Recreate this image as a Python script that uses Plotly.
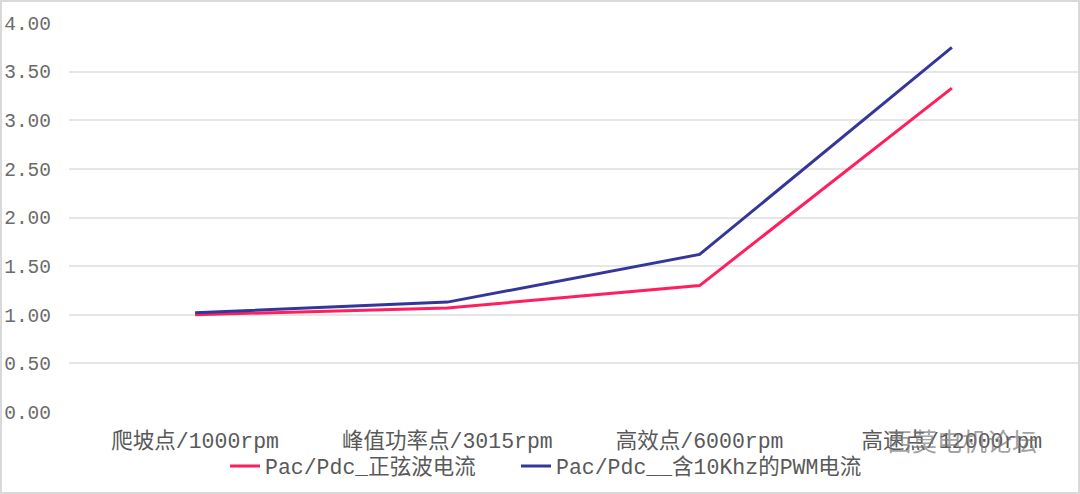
import plotly.graph_objects as go

categories = ["爬坡点/1000rpm", "峰值功率点/3015rpm", "高效点/6000rpm", "高速点/12000rpm"]
sine_values = [1.00, 1.07, 1.30, 3.33]
pwm_values = [1.02, 1.13, 1.62, 3.75]
series_names = ["Pac/Pdc_正弦波电流", "Pac/Pdc__含10Khz的PWM电流"]
y_ticks = [0, 0.5, 1, 1.5, 2, 2.5, 3, 3.5, 4]
y_tick_labels = ["0.00", "0.50", "1.00", "1.50", "2.00", "2.50", "3.00", "3.50", "4.00"]

W, H = 1080, 494
ML, MR, MT, MB = 69, 2, 23, 82
FONT = "Liberation Mono, Noto Sans CJK SC, monospace"

fig = go.Figure()
fig.add_trace(go.Scatter(x=categories, y=sine_values, mode="lines", name=series_names[0],
                         line=dict(color="#FF1F5E", width=3), legend="legend"))
fig.add_trace(go.Scatter(x=categories, y=pwm_values, mode="lines", name=series_names[1],
                         line=dict(color="#35369A", width=3), legend="legend2"))

pw = W - ML - MR
ph = H - MT - MB
fig.add_shape(type="rect", xref="paper", yref="paper",
              x0=(-ML + 1) / pw, x1=(pw + MR - 1) / pw,
              y0=(-MB + 1) / ph, y1=(ph + MT - 1) / ph,
              line=dict(color="#D9D9D9", width=2), fillcolor="rgba(0,0,0,0)", layer="below")

fig.add_annotation(text="西莫电机论坛", xref="paper", yref="paper",
                   x=(962 - ML) / pw, y=(412 - 440) / ph, showarrow=False,
                   font=dict(family="Noto Sans CJK SC", size=25, color="rgba(120,120,120,0.7)"),
                   xanchor="center", yanchor="middle")

legend_common = dict(orientation="h", xanchor="left", y=(412 - 466) / ph, yanchor="middle",
                     font=dict(family=FONT, size=21.5, color="#595959"), itemwidth=30,
                     bgcolor="rgba(0,0,0,0)")

fig.update_layout(
    width=W, height=H,
    margin=dict(l=ML, r=MR, t=MT, b=MB, autoexpand=False),
    paper_bgcolor="white", plot_bgcolor="white",
    font=dict(family=FONT, size=21, color="#595959"),
    showlegend=True,
    legend=dict(x=(225 - ML) / pw, **legend_common),
    legend2=dict(x=(516 - ML) / pw, **legend_common),
    xaxis=dict(type="category", range=[-0.5, 3.5], showgrid=False, zeroline=False,
               showline=False, ticks="", automargin=False, ticklabelstandoff=13,
               tickfont=dict(family=FONT, size=21.5, color="#595959")),
    yaxis=dict(range=[0, 4], tickvals=y_ticks, ticktext=y_tick_labels, showgrid=True,
               gridcolor="#E6E6E6", gridwidth=1.5, zeroline=False, showline=False, ticks="",
               ticklabelstandoff=17, automargin=False,
               tickfont=dict(family=FONT, size=19.5, color="#6b6b6b")),
)

fig.write_html("out.html", config={"displayModeBar": False},
               post_script="document.body.style.margin='0';document.body.style.padding='0';")
